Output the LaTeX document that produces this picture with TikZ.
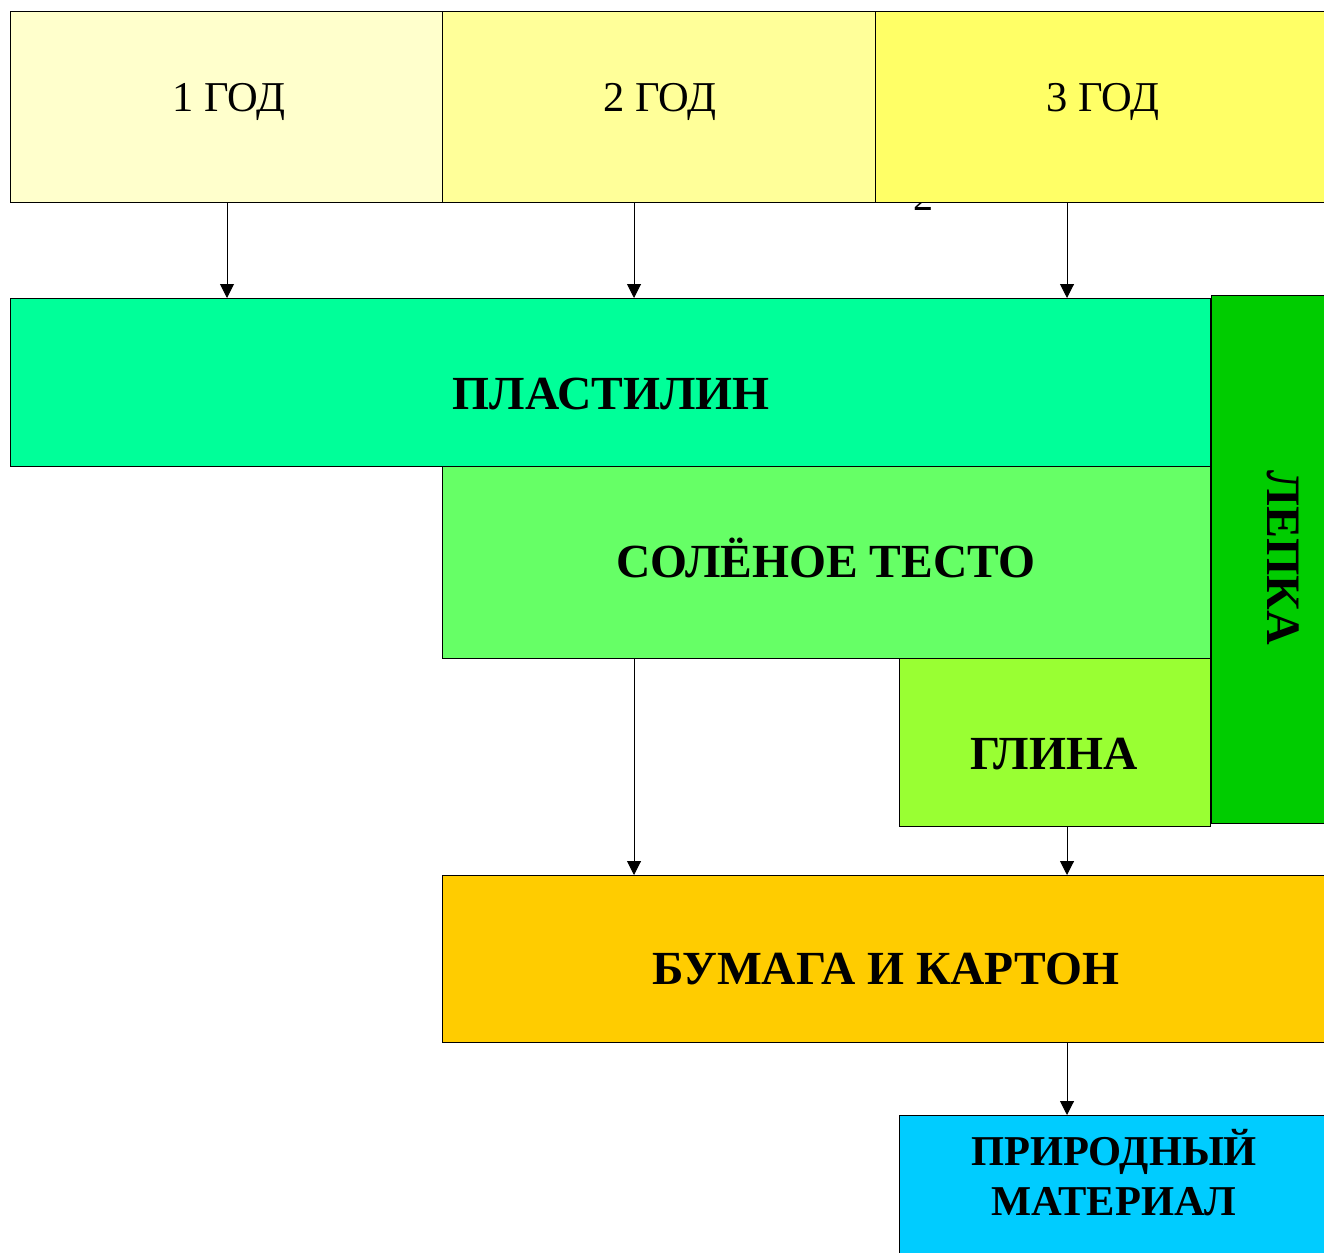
\documentclass[tikz,border=0pt]{standalone}
\usepackage{fontspec}
\setmainfont{Liberation Serif}
\usetikzlibrary{arrows.meta}
\definecolor{yA}{HTML}{FFFFCC}
\definecolor{yB}{HTML}{FFFF99}
\definecolor{yC}{HTML}{FFFF66}
\definecolor{plast}{HTML}{00FF99}
\definecolor{lepka}{HTML}{00CC00}
\definecolor{testo}{HTML}{66FF66}
\definecolor{glina}{HTML}{99FF33}
\definecolor{bumaga}{HTML}{FFCC00}
\definecolor{prir}{HTML}{00CCFF}
\tikzset{
  box/.style={draw=black, line width=1pt, rectangle, inner sep=0pt, anchor=north west},
  yeartext/.style={font=\fontsize{42.5}{46}\selectfont},
  bigtext/.style={font=\bfseries\fontsize{47.5}{50}\selectfont, align=center},
  arr/.style={-{Triangle[length=14pt,width=14pt]}, line width=1pt},
}
\begin{document}
\begin{tikzpicture}[x=1pt,y=-1pt]
\useasboundingbox (0,0) rectangle (1324,1252);
\clip (0,0) rectangle (1324,1252);
\fill[white] (0,0) rectangle (1324,1252);
% partly hidden digit
\node[anchor=base, font=\fontsize{40}{44}\selectfont, inner sep=0pt] (stray) at (923,211) {2};
% year boxes
\node[box, fill=yA, minimum width=432pt, minimum height=191pt] (y1) at (10,11) {};
\node[box, fill=yB, minimum width=433pt, minimum height=191pt] (y2) at (442,11) {};
\node[box, fill=yC, minimum width=460pt, minimum height=191pt] (y3) at (875,11) {};
\node[yeartext] (t1) at (229,102) {1 ГОД};
\node[yeartext] (t2) at (660,102) {2 ГОД};
\node[yeartext] (t3) at (1103,102) {3 ГОД};
% lepka
\node[box, fill=lepka, minimum width=145pt, minimum height=528pt] (lep) at (1211,295) {};
\node[font=\bfseries\fontsize{48}{50}\selectfont, rotate=-90] (lept) at (1283,558) {ЛЕПКА};
% materials
\node[box, fill=plast, minimum width=1200pt, minimum height=168pt] (pl) at (10,298) {};
\node[bigtext] (plt) at (611,394) {ПЛАСТИЛИН};
\node[box, fill=testo, minimum width=768pt, minimum height=192pt] (ts) at (442,466) {};
\node[bigtext] (tst) at (826,558) {СОЛЁНОЕ ТЕСТО};
\node[box, fill=glina, minimum width=311pt, minimum height=168pt] (gl) at (899,658) {};
\node[bigtext] (glt) at (1054,754) {ГЛИНА};
\node[box, fill=bumaga, minimum width=888pt, minimum height=167pt] (bm) at (442,875) {};
\node[bigtext] (bmt) at (886,969) {БУМАГА И КАРТОН};
\node[box, fill=prir, minimum width=431pt, minimum height=180pt] (pr) at (899,1115) {};
\node[align=center, font=\bfseries\fontsize{42.5}{50}\selectfont] (prt) at (1114,1173) {ПРИРОДНЫЙ\\МАТЕРИАЛ};
% arrows
\coordinate (a1s) at (227,202); \coordinate (a1e) at (227,298);
\coordinate (a2s) at (634,202); \coordinate (a2e) at (634,298);
\coordinate (a3s) at (1067,202); \coordinate (a3e) at (1067,298);
\draw[arr] (a1s) -- (a1e);
\draw[arr] (a2s) -- (a2e);
\draw[arr] (a3s) -- (a3e);
\coordinate (a4s) at (634,658); \coordinate (a4e) at (634,875);
\coordinate (a5s) at (1067,826); \coordinate (a5e) at (1067,875);
\coordinate (a6s) at (1067,1042); \coordinate (a6e) at (1067,1115);
\draw[arr] (a4s) -- (a4e);
\draw[arr] (a5s) -- (a5e);
\draw[arr] (a6s) -- (a6e);
\end{tikzpicture}
\end{document}
